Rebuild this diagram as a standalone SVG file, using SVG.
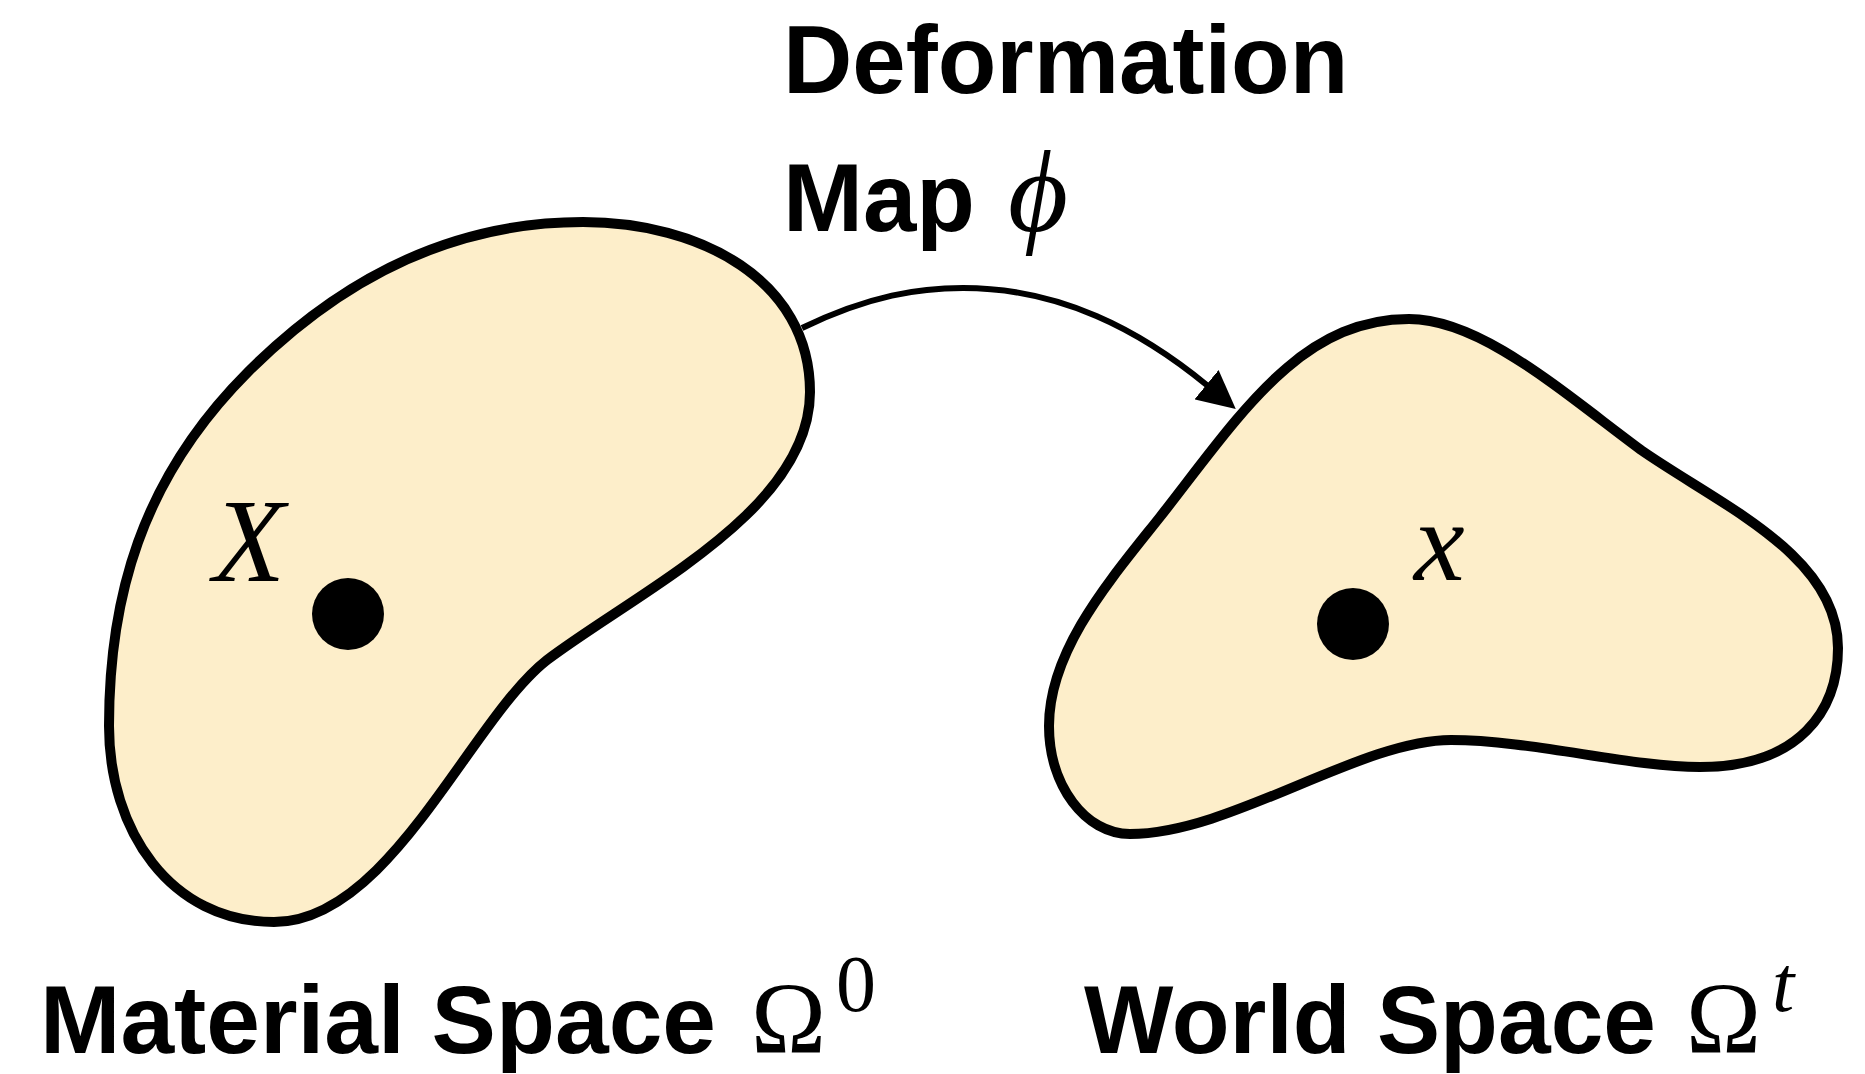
<svg xmlns="http://www.w3.org/2000/svg" width="1865" height="1074" viewBox="0 0 1865 1074">
  <style>
    .blob { fill: #FDEECA; stroke: #000; stroke-width: 10; stroke-linejoin: round; }
    .dot { fill: #000; }
    .title { font-family: "Liberation Sans", Arial, sans-serif; font-weight: bold; font-size: 96px; fill: #000; }
    .math { font-family: "Liberation Serif", "DejaVu Serif", serif; fill: #000; }
    .it { font-style: italic; }
    .conn { fill: none; stroke: #000; stroke-width: 6; }
  </style>
  <defs>
    <marker id="arrow" viewBox="0 0 38 38" markerWidth="38" markerHeight="38" refX="2" refY="19" orient="auto" markerUnits="userSpaceOnUse">
      <path d="M0,0 L38,19 L0,38 z" fill="#000"/>
    </marker>
  </defs>
  <rect width="1865" height="1074" fill="#fff"/>

  <g id="material-space">
    <path class="blob" d="M583,222 C700,222 810,280 810,392 C810,510 640,590 547,660 C470,720 390,922 274,922 C170,922 109,830 109,726 C109,600 140,480 248,372 C355,265 470,222 583,222 Z"/>
    <circle class="dot" cx="348" cy="614" r="36"/>
    <text class="math it" x="213" y="581" font-size="118">X</text>
  </g>

  <g id="world-space">
    <path class="blob" d="M1409,319 C1480,319 1560,390 1641,450 C1720,505 1838,555 1838,648 C1838,710 1800,767 1700,767 C1630,767 1530,740 1451,740 C1360,740 1230,834 1130,834 C1085,834 1049,785 1049,726 C1049,650 1110,580 1160,517 C1240,415 1300,319 1409,319 Z"/>
    <circle class="dot" cx="1353" cy="624" r="36"/>
    <text class="math it" x="1414" y="580" font-size="114">x</text>
  </g>

  <g id="connectors">
    <path class="conn" marker-end="url(#arrow)" d="M802,328 C870,295 920,288 963,288 C1060,288 1140,330 1208,386"/>
  </g>

  <g id="label-deformation">
    <text class="title" x="783" y="93">Deformation</text>
    <text class="title" x="783" y="231">Map</text>
    <text class="math it" x="1008" y="231" font-size="116">ϕ</text>
  </g>

  <g id="label-material">
    <text class="title" x="40" y="1053" textLength="676" lengthAdjust="spacingAndGlyphs">Material Space</text>
    <text class="math" x="751" y="1053" font-size="101">Ω</text>
    <text class="math" x="836" y="1011" font-size="80">0</text>
  </g>

  <g id="label-world">
    <text class="title" x="1084" y="1053" textLength="572" lengthAdjust="spacingAndGlyphs">World Space</text>
    <text class="math" x="1686" y="1053" font-size="101">Ω</text>
    <text class="math it" x="1772" y="1011" font-size="80">t</text>
  </g>
</svg>
